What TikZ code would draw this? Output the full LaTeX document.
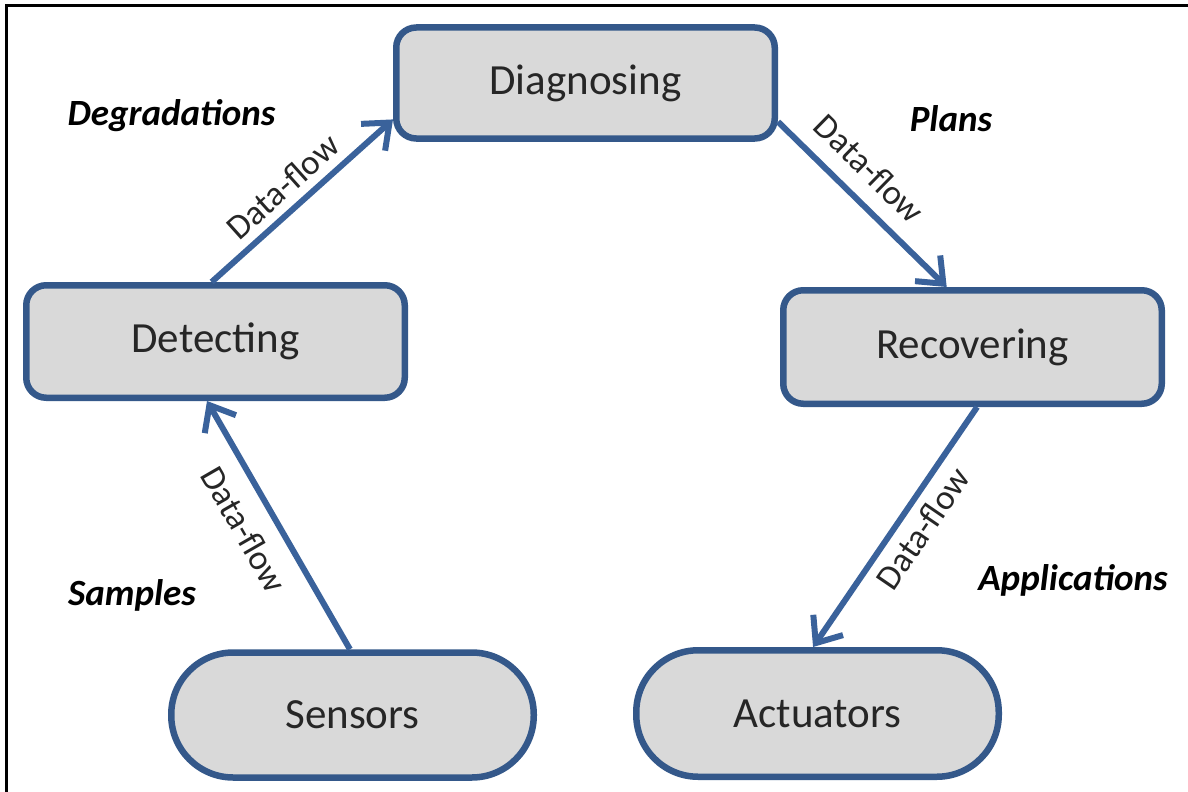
\documentclass[tikz,border=0pt]{standalone}
\usepackage{fontspec}
\setmainfont{Carlito}
\usetikzlibrary{arrows.meta,calc}
\definecolor{boxline}{RGB}{52,88,138}
\definecolor{flowline}{RGB}{58,98,155}
\definecolor{boxfill}{RGB}{217,217,217}
\definecolor{boxtext}{RGB}{38,38,38}

\begin{document}
\begin{tikzpicture}[x=1pt,y=-1pt,
  stage/.style={draw=boxline, line width=6.5pt, fill=boxfill, rounded corners=20pt,
    minimum width=378.5pt, minimum height=111pt, inner sep=0pt,
    text=boxtext, font=\fontsize{43}{50}\selectfont},
  endpoint/.style={stage, rounded corners=62pt, minimum width=362.5pt, minimum height=125pt},
  flow/.style={draw=flowline, line width=6pt, -{Straight Barb[length=22pt,width=36pt]}},
  flowtag/.style={sloped, inner sep=0pt, text=boxtext, font=\fontsize{35}{42}\selectfont},
  topic/.style={anchor=base, inner sep=0pt, text=black, font=\fontsize{37}{44}\selectfont\bfseries\itshape}
]
\useasboundingbox (0,0) rectangle (1188,792);
\fill[white] (0,0) rectangle (1188,792);

% frame
\draw[line width=3.5pt] (6.7,792) -- (6.7,5.5) -- (1188,5.5);

% stages of the loop
\node[stage] (diag) at (585.5,83) {Diagnosing};
\node[stage, minimum height=112.5pt] (det) at (215.5,341.5) {Detecting};
\node[stage, minimum height=113.5pt] (rec) at (972.5,347) {Recovering};
\node[endpoint] (sens) at (352.5,715) {Sensors};
\node[endpoint, minimum height=126.5pt] (act) at (817.5,713.5) {Actuators};

% what travels along each branch
\node[topic] (degr) at (171.5,125) {Degradations};
\node[topic] (plans) at (951,131) {Plans};
\node[topic] (samp) at (132,605) {Samples};
\node[topic] (appl) at (1073,590) {Applications};

% data flows
\draw[flow] ($(sens.north west)!0.493!(sens.north east)$) -- ($(det.south west)!0.478!(det.south east)$)
  node[flowtag, pos=0.547, below=16.5pt] {Data-flow};
\draw[flow] ($(det.north west)!0.49!(det.north east)$) -- ($(diag.north west)!0.81!(diag.south west)$)
  node[flowtag, pos=0.479, above=8.5pt] {Data-flow};
\draw[flow] ($(diag.north east)!0.83!(diag.south east)$) -- ($(rec.north west)!0.433!(rec.north east)$)
  node[flowtag, pos=0.416, above=15.5pt] {Data-flow};
\draw[flow] ($(rec.south west)!0.512!(rec.south east)$) -- ($(act.north west)!0.488!(act.north east)$)
  node[flowtag, pos=0.45, below=8.5pt] {Data-flow};
\end{tikzpicture}
\end{document}
